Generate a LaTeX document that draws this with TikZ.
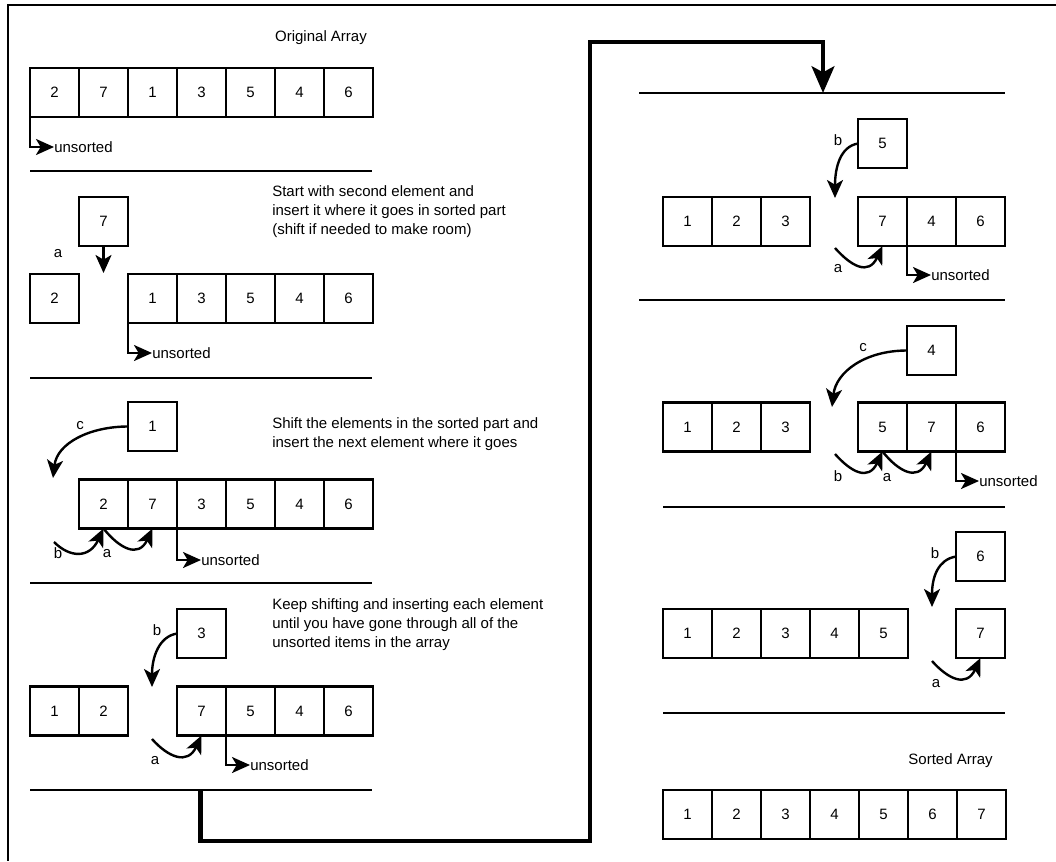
\documentclass[tikz,border=0pt]{standalone}
\usepackage{fontspec}
\setmainfont{Liberation Sans}
\usetikzlibrary{arrows.meta}
\newcommand\mydiafont{\fontsize{11.25pt}{14.25pt}\selectfont}
\newcommand\mkcells[4]{%
  \foreach \v [count=\i] in {#4} {\node[cell] (#1\i) at ({#2+24.5+49*(\i-1)},#3) {\v};}}
\tikzset{
  cell/.style={draw, line width=1.8pt, minimum size=36.75pt, inner sep=0pt, outer sep=0pt, font=\mydiafont},
  mysep/.style={line width=1.8pt},
  myarr/.style={line width=1.8pt, -{Stealth[length=13.5pt,width=12pt,inset=3.5pt]}},
  bigarr/.style={line width=3.4pt, line join=miter, -{Stealth[length=20pt,width=17pt,inset=4.5pt]}},
  lbl/.style={inner sep=0pt, font=\mydiafont},
  txt/.style={inner sep=0pt, font=\mydiafont, align=left, anchor=north west},
}
\begin{document}
\begin{tikzpicture}[x=0.75pt,y=-0.75pt]
\useasboundingbox (0,0) rectangle (1056,861);
% border
\draw[line width=1.8pt] (1056,5) -- (8,5) -- (8,861);

% ---------- Panel 1
\node[lbl, anchor=base] (t1) at (321,41.7) {Original Array};
\mkcells{p1r}{30}{92.5}{2,7,1,3,5,4,6}
\node[lbl, anchor=west] (u1) at (54,147) {unsorted};
\draw[myarr] (p1r1.south west) |- (u1.west);
\draw[mysep] (30,171) -- (372,171);

% ---------- Panel 2
\node[txt] (t2) at (272,185) {Start with second element and\\insert it where it goes in sorted part\\(shift if needed to make room)};
\node[cell] (p2t) at (103.5,221.5) {7};
\node[lbl, anchor=base] (l2a) at (58,257) {a};
\coordinate (c2a) at (103.5,273);
\draw[myarr] (p2t.south) -- (c2a);
\node[cell] (p2l1) at (54.5,298.5) {2};
\mkcells{p2r}{128}{298.5}{1,3,5,4,6}
\node[lbl, anchor=west] (u2) at (152,353) {unsorted};
\draw[myarr] (p2r1.south west) |- (u2.west);
\draw[mysep] (30,378) -- (372,378);

% ---------- Panel 3
\node[txt] (t3) at (272,417) {Shift the elements in the sorted part and\\insert the next element where it goes};
\node[cell] (p3t) at (152.5,426.5) {1};
\node[lbl, anchor=base] (l3c) at (80,429) {c};
\coordinate (c3c) at (53,478);
\draw[myarr] (p3t.west) .. controls +(-38,0) and +(4,-35) .. (c3c);
\mkcells{p3r}{79}{504}{2,7,3,5,4,6}
\coordinate (s3b) at (54,542);
\draw[myarr] (s3b) .. controls +(16,16) and +(-14,30) .. (p3r1.south);
\draw[myarr] (p3r1.south) .. controls +(16,20) and +(-14,30) .. (p3r2.south);
\node[lbl, anchor=base] (l3b) at (58,558.5) {b};
\node[lbl, anchor=base] (l3a) at (107,557) {a};
\node[lbl, anchor=west] (u3) at (201,560) {unsorted};
\draw[myarr] (p3r3.south west) |- (u3.west);
\draw[mysep] (30,583) -- (372,583);

% ---------- Panel 4
\node[txt] (t4) at (272,598) {Keep shifting and inserting each element\\until you have gone through all of the\\unsorted items in the array};
\node[cell] (p4t) at (201.5,633.5) {3};
\node[lbl, anchor=base] (l4b) at (157,635.5) {b};
\coordinate (c4b) at (152,687);
\draw[myarr] (p4t.west) .. controls +(-18,3) and +(0,-30) .. (c4b);
\mkcells{p4l}{30}{711}{1,2}
\mkcells{p4r}{177}{711}{7,5,4,6}
\coordinate (s4a) at (152,739);
\draw[myarr] (s4a) .. controls +(16,18) and +(-14,30) .. (p4r1.south);
\node[lbl, anchor=base] (l4a) at (155,764) {a};
\node[lbl, anchor=west] (u4) at (250,765) {unsorted};
\draw[myarr] (p4r2.south west) |- (u4.west);
\draw[mysep] (30,790) -- (372,790);

% ---------- big connector
\coordinate (bs) at (200.5,790);
\coordinate (be) at (823,93);
\draw[bigarr] (bs) -- (200.5,841) -- (590,841) -- (590,42) -- (823,42) -- (be);

% ---------- Right panel 1
\draw[mysep] (639,93) -- (1005,93);
\node[cell] (r1t) at (882.5,143.5) {5};
\node[lbl, anchor=base] (lr1b) at (838,145.5) {b};
\coordinate (cr1b) at (835,198);
\draw[myarr] (r1t.west) .. controls +(-18,3) and +(0,-30) .. (cr1b);
\mkcells{r1l}{663}{221.5}{1,2,3}
\mkcells{r1r}{858}{221.5}{7,4,6}
\coordinate (sr1a) at (835,248);
\draw[myarr] (sr1a) .. controls +(16,18) and +(-14,30) .. (r1r1.south);
\node[lbl, anchor=base] (lr1a) at (838,272) {a};
\node[lbl, anchor=west] (ur1) at (931,275) {unsorted};
\draw[myarr] (r1r2.south west) |- (ur1.west);
\draw[mysep] (639,300) -- (1005,300);

% ---------- Right panel 2
\node[cell] (r2t) at (931.5,350.5) {4};
\node[lbl, anchor=base] (lr2c) at (863,351) {c};
\coordinate (cr2c) at (832,407);
\draw[myarr] (r2t.west) .. controls +(-42,0) and +(4,-35) .. (cr2c);
\mkcells{r2l}{663}{427}{1,2,3}
\mkcells{r2r}{858}{427}{5,7,6}
\coordinate (sr2b) at (835,454);
\draw[myarr] (sr2b) .. controls +(16,18) and +(-14,30) .. (r2r1.south);
\draw[myarr] (r2r1.south) .. controls +(16,20) and +(-14,30) .. (r2r2.south);
\node[lbl, anchor=base] (lr2b) at (838,481.5) {b};
\node[lbl, anchor=base] (lr2a) at (887,481) {a};
\node[lbl, anchor=west] (ur2) at (979,481) {unsorted};
\draw[myarr] (r2r3.south west) |- (ur2.west);
\draw[mysep] (663,507) -- (1005,507);

% ---------- Right panel 3
\node[cell] (r3t) at (980.5,556.5) {6};
\node[lbl, anchor=base] (lr3b) at (935,558.5) {b};
\coordinate (cr3b) at (932,607);
\draw[myarr] (r3t.west) .. controls +(-18,3) and +(0,-30) .. (cr3b);
\mkcells{r3l}{663}{633.5}{1,2,3,4,5}
\node[cell] (r3s) at (980.5,633.5) {7};
\coordinate (sr3a) at (932,661);
\draw[myarr] (sr3a) .. controls +(16,18) and +(-14,30) .. (r3s.south);
\node[lbl, anchor=base] (lr3a) at (936,687) {a};
\draw[mysep] (663,713) -- (1005,713);

% ---------- Sorted
\node[lbl, anchor=base] (t5) at (950.5,764) {Sorted Array};
\mkcells{r4r}{663}{814.5}{1,2,3,4,5,6,7}
\end{tikzpicture}
\end{document}
